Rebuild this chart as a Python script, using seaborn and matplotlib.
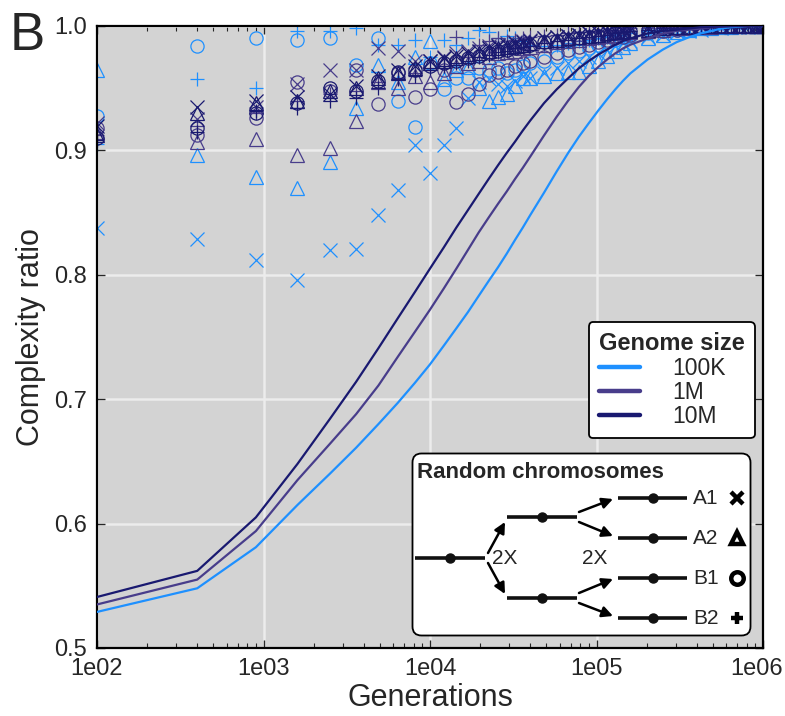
import matplotlib
matplotlib.use('Agg')
import matplotlib.pyplot as plt
import matplotlib.transforms as mtransforms
from matplotlib.lines import Line2D
from matplotlib.patches import FancyBboxPatch
import seaborn as sns
import pandas as pd

# Generations sampled (10^2 .. 10^6)
gens = [100, 400, 900, 1600, 2500, 3600, 4900, 6400, 8100, 10000, 12100, 14400, 16900, 19600,
        22500, 25600, 28900, 32400, 36100, 40000, 48400, 57600, 67600, 78400, 90000, 102400,
        115600, 129600, 144400, 160000, 202500, 250000, 302500, 360000, 422500, 490000,
        562500, 640000, 722500, 810000, 902500, 1000000]

# Mean complexity ratio curves per genome size
line_100k = [0.529, 0.548, 0.581, 0.615, 0.640, 0.661, 0.680, 0.697, 0.713, 0.728, 0.743, 0.757, 0.770, 0.783,
             0.795, 0.806, 0.817, 0.828, 0.838, 0.848, 0.866, 0.883, 0.898, 0.911, 0.922, 0.932,
             0.941, 0.949, 0.956, 0.962, 0.973, 0.981, 0.987, 0.991, 0.994, 0.996,
             0.998, 0.999, 0.9995, 1.000, 1.000, 1.000]
line_1m = [0.535, 0.555, 0.594, 0.635, 0.664, 0.688, 0.711, 0.734, 0.754, 0.772, 0.789, 0.805, 0.820, 0.834,
           0.846, 0.857, 0.867, 0.877, 0.886, 0.895, 0.912, 0.927, 0.940, 0.951, 0.960, 0.967,
           0.973, 0.978, 0.982, 0.985, 0.990, 0.994, 0.996, 0.997, 0.998, 0.999,
           0.9995, 1.000, 1.000, 1.000, 1.000, 1.000]
line_10m = [0.541, 0.562, 0.605, 0.648, 0.684, 0.714, 0.741, 0.765, 0.786, 0.805, 0.822, 0.838, 0.852, 0.865,
            0.877, 0.888, 0.898, 0.907, 0.916, 0.924, 0.938, 0.949, 0.958, 0.966, 0.972, 0.977,
            0.981, 0.985, 0.988, 0.990, 0.994, 0.996, 0.997, 0.998, 0.999, 0.9993,
            0.9996, 0.9998, 1.000, 1.000, 1.000, 1.000]

# Individual random chromosomes
k100_a1 = [0.838, 0.829, 0.812, 0.796, 0.820, 0.821, 0.848, 0.868, 0.904, 0.882, 0.904, 0.918, 0.942, 0.955,
           0.957, 0.953, 0.952, 0.956, 0.960, 0.958, 0.962, 0.966, 0.970, 0.972, 0.975, 0.978,
           0.981, 0.984, 0.986, 0.988, 0.991, 0.993, 0.995, 0.996, 0.997, 0.998,
           0.998, 0.999, 0.999, 0.999, 1.000, 1.000]
k100_a2 = [0.965, 0.896, 0.879, 0.870, 0.891, 0.934, 0.969, 0.955, 0.975, 0.988, 0.957, 0.965, 0.967, 0.950,
           0.940, 0.943, 0.945, 0.952, 0.958, 0.958, 0.960, 0.962, 0.963, 0.963, 0.968, 0.972,
           0.976, 0.980, 0.983, 0.986, 0.990, 0.993, 0.995, 0.997, 0.998, 0.998,
           0.999, 0.999, 1.000, 1.000, 1.000, 1.000]
k100_b1 = [0.928, 0.984, 0.990, 0.989, 0.990, 0.969, 0.990, 0.940, 0.919, 0.970, 0.949, 0.958, 0.958, 0.966,
           0.965, 0.966, 0.962, 0.965, 0.968, 0.970, 0.972, 0.975, 0.978, 0.980, 0.982, 0.985,
           0.987, 0.989, 0.991, 0.992, 0.994, 0.996, 0.997, 0.998, 0.998, 0.999,
           0.999, 1.000, 1.000, 1.000, 1.000, 1.000]
k100_b2 = [0.905, 0.957, 0.950, 0.996, 0.996, 0.998, 0.985, 0.985, 0.989, 0.975, 0.989, 0.985, 0.990, 0.997,
           0.995, 0.990, 0.992, 0.990, 0.988, 0.985, 0.984, 0.985, 0.986, 0.988, 0.989, 0.990,
           0.991, 0.992, 0.993, 0.994, 0.996, 0.997, 0.998, 0.998, 0.999, 0.999,
           1.000, 1.000, 1.000, 1.000, 1.000, 1.000]

m1_a1 = [0.922, 0.925, 0.935, 0.953, 0.965, 0.965, 0.982, 0.980, 0.972, 0.972, 0.975, 0.978, 0.980, 0.982,
         0.984, 0.985, 0.986, 0.987, 0.988, 0.989, 0.990, 0.991, 0.992, 0.993, 0.994, 0.995,
         0.995, 0.996, 0.996, 0.997, 0.998, 0.998, 0.999, 0.999, 0.999, 1.000,
         1.000, 1.000, 1.000, 1.000, 1.000, 1.000]
m1_a2 = [0.915, 0.907, 0.909, 0.896, 0.902, 0.924, 0.955, 0.950, 0.960, 0.955, 0.962, 0.968, 0.970, 0.972,
         0.975, 0.978, 0.979, 0.980, 0.982, 0.983, 0.985, 0.987, 0.988, 0.989, 0.990, 0.991,
         0.992, 0.993, 0.994, 0.995, 0.996, 0.997, 0.998, 0.998, 0.999, 0.999,
         1.000, 1.000, 1.000, 1.000, 1.000, 1.000]
m1_b1 = [0.918, 0.912, 0.926, 0.955, 0.948, 0.965, 0.937, 0.962, 0.943, 0.949, 0.965, 0.939, 0.945, 0.953,
         0.961, 0.963, 0.965, 0.968, 0.970, 0.972, 0.975, 0.978, 0.981, 0.983, 0.985, 0.987,
         0.989, 0.990, 0.991, 0.993, 0.995, 0.996, 0.997, 0.998, 0.999, 0.999,
         1.000, 1.000, 1.000, 1.000, 1.000, 1.000]
m1_b2 = [0.912, 0.920, 0.930, 0.940, 0.945, 0.948, 0.955, 0.958, 0.962, 0.965, 0.968, 0.991, 0.975, 0.985,
         0.988, 0.990, 0.988, 0.989, 0.990, 0.991, 0.992, 0.993, 0.994, 0.995, 0.995, 0.996,
         0.996, 0.997, 0.997, 0.998, 0.998, 0.999, 0.999, 1.000, 1.000, 1.000,
         1.000, 1.000, 1.000, 1.000, 1.000, 1.000]

m10_a1 = [0.920, 0.935, 0.940, 0.943, 0.945, 0.952, 0.960, 0.965, 0.968, 0.972, 0.974, 0.976, 0.978, 0.980,
          0.982, 0.984, 0.985, 0.986, 0.987, 0.988, 0.990, 0.991, 0.992, 0.993, 0.994, 0.995,
          0.996, 0.996, 0.997, 0.997, 0.998, 0.999, 0.999, 1.000, 1.000, 1.000,
          1.000, 1.000, 1.000, 1.000, 1.000, 1.000]
m10_a2 = [0.912, 0.930, 0.938, 0.940, 0.948, 0.950, 0.958, 0.962, 0.966, 0.970, 0.972, 0.974, 0.976, 0.978,
          0.980, 0.982, 0.983, 0.984, 0.985, 0.986, 0.988, 0.989, 0.990, 0.991, 0.992, 0.993,
          0.994, 0.995, 0.996, 0.996, 0.997, 0.998, 0.999, 0.999, 1.000, 1.000,
          1.000, 1.000, 1.000, 1.000, 1.000, 1.000]
m10_b1 = [0.910, 0.918, 0.930, 0.938, 0.950, 0.948, 0.956, 0.963, 0.965, 0.968, 0.970, 0.972, 0.974, 0.976,
          0.978, 0.980, 0.981, 0.982, 0.984, 0.985, 0.987, 0.988, 0.989, 0.990, 0.991, 0.992,
          0.993, 0.994, 0.995, 0.996, 0.997, 0.998, 0.998, 0.999, 0.999, 1.000,
          1.000, 1.000, 1.000, 1.000, 1.000, 1.000]
m10_b2 = [0.908, 0.915, 0.932, 0.934, 0.940, 0.942, 0.950, 0.957, 0.960, 0.966, 0.968, 0.970, 0.972, 0.975,
          0.977, 0.979, 0.980, 0.982, 0.983, 0.984, 0.986, 0.988, 0.989, 0.990, 0.991, 0.992,
          0.993, 0.994, 0.995, 0.996, 0.997, 0.998, 0.998, 0.999, 0.999, 1.000,
          1.000, 1.000, 1.000, 1.000, 1.000, 1.000]

sizes = ['100K', '1M', '10M']
chroms = ['A1', 'A2', 'B1', 'B2']
colors = {'100K': '#1e90ff', '1M': '#483d8b', '10M': '#191970'}
markers = {'A1': 'x', 'A2': '^', 'B1': 'o', 'B2': '+'}
points = {
    '100K': [k100_a1, k100_a2, k100_b1, k100_b2],
    '1M': [m1_a1, m1_a2, m1_b1, m1_b2],
    '10M': [m10_a1, m10_a2, m10_b1, m10_b2],
}
xtick_vals = [1e2, 1e3, 1e4, 1e5, 1e6]
xtick_labels = ['1e02', '1e03', '1e04', '1e05', '1e06']
ytick_vals = [0.5, 0.6, 0.7, 0.8, 0.9, 1.0]
ytick_labels = ['0.5', '0.6', '0.7', '0.8', '0.9', '1.0']

lines_df = pd.DataFrame({
    'gen': gens * 3,
    'ratio': line_100k + line_1m + line_10m,
    'size': ['100K'] * len(gens) + ['1M'] * len(gens) + ['10M'] * len(gens),
})

sns.set_style('ticks')
plt.rcParams['font.family'] = ['Liberation Sans', 'DejaVu Sans']

fig = plt.figure(figsize=(7.85, 7.16), dpi=100)
ax = fig.add_axes([97 / 785, 68 / 716, 666 / 785, 622 / 716])
ax.set_facecolor('#d3d3d3')

# markers for each random chromosome
for s in sizes:
    for ch, vals in zip(chroms, points[s]):
        ax.plot(gens, vals, linestyle='none', marker=markers[ch], ms=9.5, mew=0.9,
                mfc='none', mec=colors[s], color=colors[s], zorder=2)

sns.lineplot(data=lines_df, x='gen', y='ratio', hue='size', hue_order=sizes,
             palette=colors, legend=False, lw=1.6, ax=ax, zorder=3)

ax.set_xscale('log')
ax.set_xlim(1e2, 1e6)
ax.set_ylim(0.5, 1.0)
ax.set_xticks(xtick_vals)
ax.set_xticklabels(xtick_labels)
ax.set_yticks(ytick_vals)
ax.set_yticklabels(ytick_labels)
ax.tick_params(which='both', direction='in', top=True, right=True, labelsize=17, pad=7)
ax.tick_params(which='major', length=6, width=1)
ax.tick_params(which='minor', length=3.5, width=0.8)
ax.tick_params(axis='y', which='minor', left=False, right=False)
ax.grid(True, which='major', color='#ececec', lw=1.8)
ax.set_axisbelow(True)
for sp in ax.spines.values():
    sp.set_linewidth(1.6)
    sp.set_color('black')
ax.set_xlabel('Generations', fontsize=22, labelpad=2)
ax.set_ylabel('Complexity ratio', fontsize=22, labelpad=6)

# keep the last x label inside the figure
last = ax.get_xticklabels()[-1]
last.set_transform(last.get_transform() + mtransforms.ScaledTranslation(-6 / 100, 0, fig.dpi_scale_trans))

fig.text(10 / 785, 1 - 50 / 716, 'B', fontsize=38)

handles = [Line2D([], [], color=colors[s], lw=3.2) for s in sizes]
leg = ax.legend(handles, sizes, title='Genome size', loc='upper right',
                bbox_to_anchor=(0.988, 0.524), borderaxespad=0, frameon=True, fancybox=True,
                fontsize=16.5, title_fontproperties={'weight': 'bold', 'size': 17},
                handlelength=1.8, handletextpad=1.4, labelspacing=0.05,
                borderpad=0.45, framealpha=1)
leg.get_frame().set_edgecolor('black')
leg.get_frame().set_linewidth(1.3)
leg._legend_box.align = 'left'

# schematic of the random chromosome duplications
ax2 = fig.add_axes([411 / 785, (716 - 637) / 716, 341 / 785, 185 / 716])
ax2.set_xlim(0, 341)
ax2.set_ylim(185, 0)
ax2.axis('off')
ax2.add_patch(FancyBboxPatch((1.5, 1.5), 338, 182, boxstyle='round,pad=0,rounding_size=9',
                             fc='white', ec='black', lw=1.3))
ax2.text(6, 20, 'Random chromosomes', fontsize=16, fontweight='bold', va='center', ha='left')

def chrom_bar(x0, x1, y):
    ax2.plot([x0, x1], [y, y], color='#111111', lw=2.6, solid_capstyle='butt')
    ax2.plot((x0 + x1) / 2, y, marker='o', ms=6.5, color='#111111')

def arrow(p0, p1):
    ax2.annotate('', xy=p1, xytext=p0,
                 arrowprops=dict(arrowstyle='-|>', lw=1.8, color='black',
                                 mutation_scale=16, shrinkA=0, shrinkB=0))

chrom_bar(4, 74, 106)
chrom_bar(96, 166, 65)
chrom_bar(96, 166, 146)
arrow((77, 101), (94, 70))
arrow((77, 111), (94, 142))
ax2.text(81, 107, '2X', fontsize=15, va='center', ha='left')
ax2.text(184, 107, '2X', fontsize=15, va='center', ha='center')
right_y = [46, 86, 126, 166]
arrow((168, 60), (202, 47))
arrow((168, 70), (202, 84))
arrow((168, 141), (202, 127))
arrow((168, 151), (202, 164))
for ch, y in zip(chroms, right_y):
    chrom_bar(207, 276, y)
    ax2.text(282, y + 1, ch, fontsize=15, va='center', ha='left')
    ax2.plot(326, y, marker=markers[ch], ms=9, mew=3.2, mfc='none', mec='black', color='black')

fig.savefig('out.png', dpi=100)
